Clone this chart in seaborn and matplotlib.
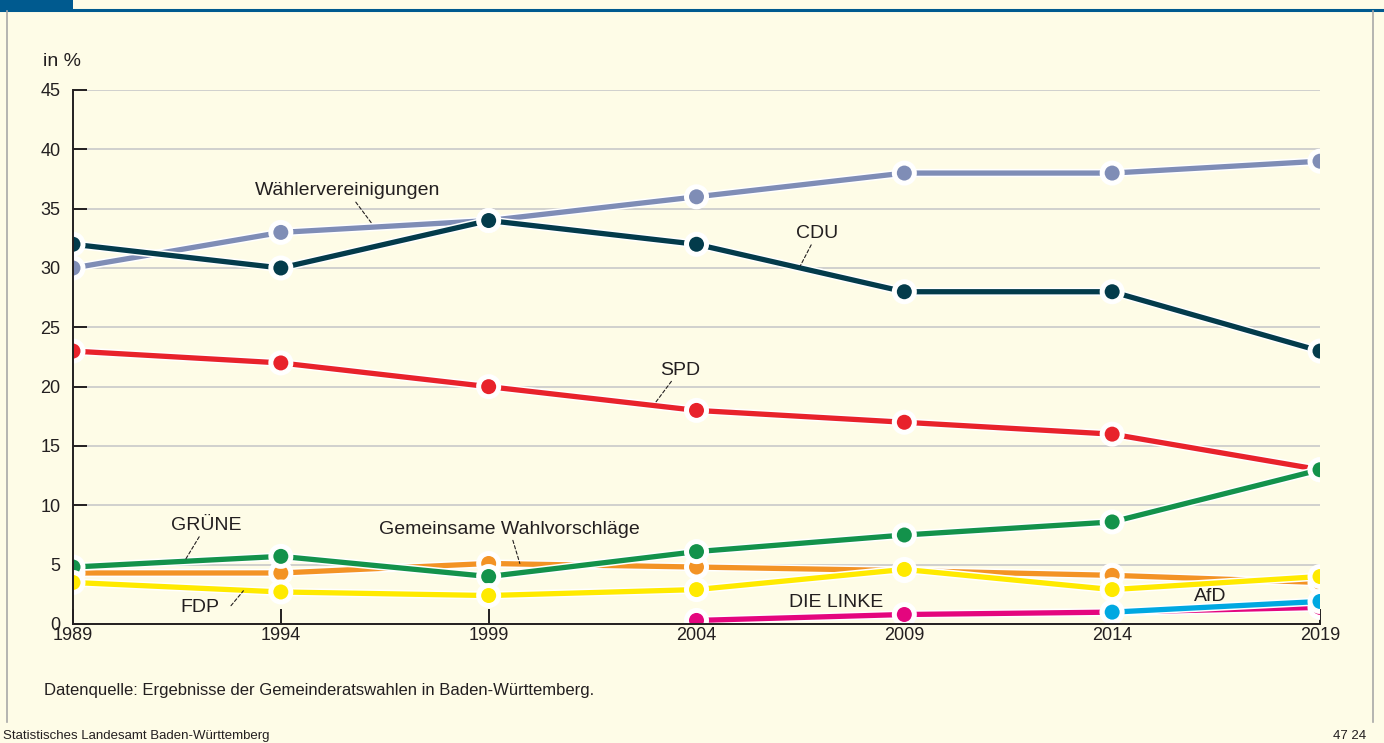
import pandas as pd
import matplotlib
matplotlib.use('Agg')
from matplotlib import pyplot as plt
import matplotlib.patheffects as pe
import seaborn as sns

# Werte (Anteile in %)
jahre = [1989, 1994, 1999, 2004, 2009, 2014, 2019]
waehlervereinigungen = [30, 33, 34, 36, 38, 38, 39]
cdu = [32, 30, 34, 32, 28, 28, 23]
spd = [23, 22, 20, 18, 17, 16, 13]
gemeinsame = [4.3, 4.3, 5.1, 4.8, 4.5, 4.1, 3.5]
gruene = [4.8, 5.7, 4.0, 6.1, 7.5, 8.6, 13.0]
fdp = [3.5, 2.7, 2.4, 2.9, 4.6, 2.9, 4.0]
linke_jahre = [2004, 2009, 2014, 2019]
linke = [0.3, 0.8, 1.0, 1.4]
afd_jahre = [2014, 2019]
afd = [1.0, 1.9]

parteien = ['Wählervereinigungen', 'CDU', 'SPD', 'Gemeinsame Wahlvorschläge',
            'GRÜNE', 'FDP', 'DIE LINKE', 'AfD']
farben = ['#7f8db6', '#033b4b', '#e8222b', '#f39325', '#13924b', '#ffea00',
          '#e4067e', '#00a8e1']

# Long-Format fuer seaborn
rows = []
for name, xs, ys in [
    ('Wählervereinigungen', jahre, waehlervereinigungen),
    ('CDU', jahre, cdu),
    ('SPD', jahre, spd),
    ('Gemeinsame Wahlvorschläge', jahre, gemeinsame),
    ('GRÜNE', jahre, gruene),
    ('FDP', jahre, fdp),
    ('DIE LINKE', linke_jahre, linke),
    ('AfD', afd_jahre, afd),
]:
    for x, y in zip(xs, ys):
        rows.append({'jahr': x, 'anteil': y, 'partei': name})
df = pd.DataFrame(rows)

bg = '#fefce7'
txt = '#231f20'
plt.rcParams['font.family'] = ['Liberation Sans', 'DejaVu Sans']

fig = plt.figure(figsize=(13.84, 7.43), dpi=100, facecolor=bg)
ax = fig.add_axes([73 / 1384, 1 - 624 / 743, 1247 / 1384, 534 / 743])
ax.set_facecolor(bg)

sns.lineplot(data=df, x='jahr', y='anteil', hue='partei', hue_order=parteien,
             palette=dict(zip(parteien, farben)), marker='o', markersize=12,
             markeredgecolor='white', markeredgewidth=1.2, linewidth=3.8,
             legend=False, ax=ax)
for ln in ax.lines:
    ln.set_path_effects([pe.Stroke(linewidth=6, foreground='white'), pe.Normal()])

ax.set_xlim(1989, 2019)
ax.set_ylim(0, 45)
ax.set_xticks(jahre)
ax.set_yticks(range(0, 46, 5))
ax.set_xlabel('')
ax.set_ylabel('')
ax.yaxis.grid(True, color='#c9c9c9', linewidth=1.2)
ax.set_axisbelow(True)
for s in ['top', 'right']:
    ax.spines[s].set_visible(False)
for s in ['left', 'bottom']:
    ax.spines[s].set_color(txt)
    ax.spines[s].set_linewidth(1.4)
ax.tick_params(axis='y', direction='in', length=10, width=1.4, pad=9,
               labelsize=13, colors=txt)
ax.tick_params(axis='x', direction='in', length=11, width=1.4, pad=2,
               labelsize=13, colors=txt)

# Beschriftungen mit gestrichelten Hinweislinien
lbl = dict(fontsize=14, color=txt, ha='center', va='center')
arrow = dict(arrowstyle='-', linestyle=(0, (3, 2)), color=txt, linewidth=0.8,
             shrinkA=0, shrinkB=0)
ax.annotate('Wählervereinigungen', xy=(1996.2, 33.7), xytext=(1995.6, 36.5),
            arrowprops=arrow, **lbl)
ax.annotate('CDU', xy=(2006.5, 30.2), xytext=(2006.9, 32.9),
            arrowprops=arrow, **lbl)
ax.annotate('SPD', xy=(2003.0, 18.6), xytext=(2003.6, 21.4),
            arrowprops=arrow, **lbl)
ax.annotate('GRÜNE', xy=(1991.7, 5.4), xytext=(1992.2, 8.3),
            arrowprops=arrow, **lbl)
ax.annotate('Gemeinsame Wahlvorschläge', xy=(1999.75, 5.1), xytext=(1999.5, 8.0),
            arrowprops=arrow, **lbl)
ax.annotate('FDP', xy=(1993.1, 2.8), xytext=(1992.05, 1.4),
            arrowprops=dict(arrow, relpos=(1.3, 0.6)), **lbl)
ax.text(2007.35, 1.85, 'DIE LINKE', **lbl)
ax.text(2016.35, 2.3, 'AfD', **lbl)

# Rahmen und Texte der Abbildung
fig.text(43 / 1384, 1 - 62 / 743, 'in %', fontsize=14, color=txt,
         ha='left', va='center')
fig.text(44 / 1384, 1 - 690 / 743,
         'Datenquelle: Ergebnisse der Gemeinderatswahlen in Baden-Württemberg.',
         fontsize=12, color=txt, ha='left', va='center')
fig.text(3 / 1384, 1 - 736 / 743, 'Statistisches Landesamt Baden-Württemberg',
         fontsize=9.5, color=txt, ha='left', va='center')
fig.text(1366 / 1384, 1 - 736 / 743, '47 24', fontsize=9.5, color=txt,
         ha='right', va='center')

blau = '#005a8f'
fig.add_artist(plt.Line2D([0, 1], [1 - 9.5 / 743] * 2, color=blau, linewidth=2.2))
fig.add_artist(plt.Rectangle((0, 1 - 9 / 743), 73 / 1384, 9 / 743,
                             color=blau, linewidth=0))
fig.add_artist(plt.Line2D([6.5 / 1384] * 2, [1 - 11 / 743, 1 - 722 / 743],
                          color='#a8a8a8', linewidth=1.2))
fig.add_artist(plt.Line2D([1372.5 / 1384] * 2, [1 - 11 / 743, 1 - 722 / 743],
                          color='#a8a8a8', linewidth=1.2))

plt.savefig('out.png', dpi=100, facecolor=bg)
